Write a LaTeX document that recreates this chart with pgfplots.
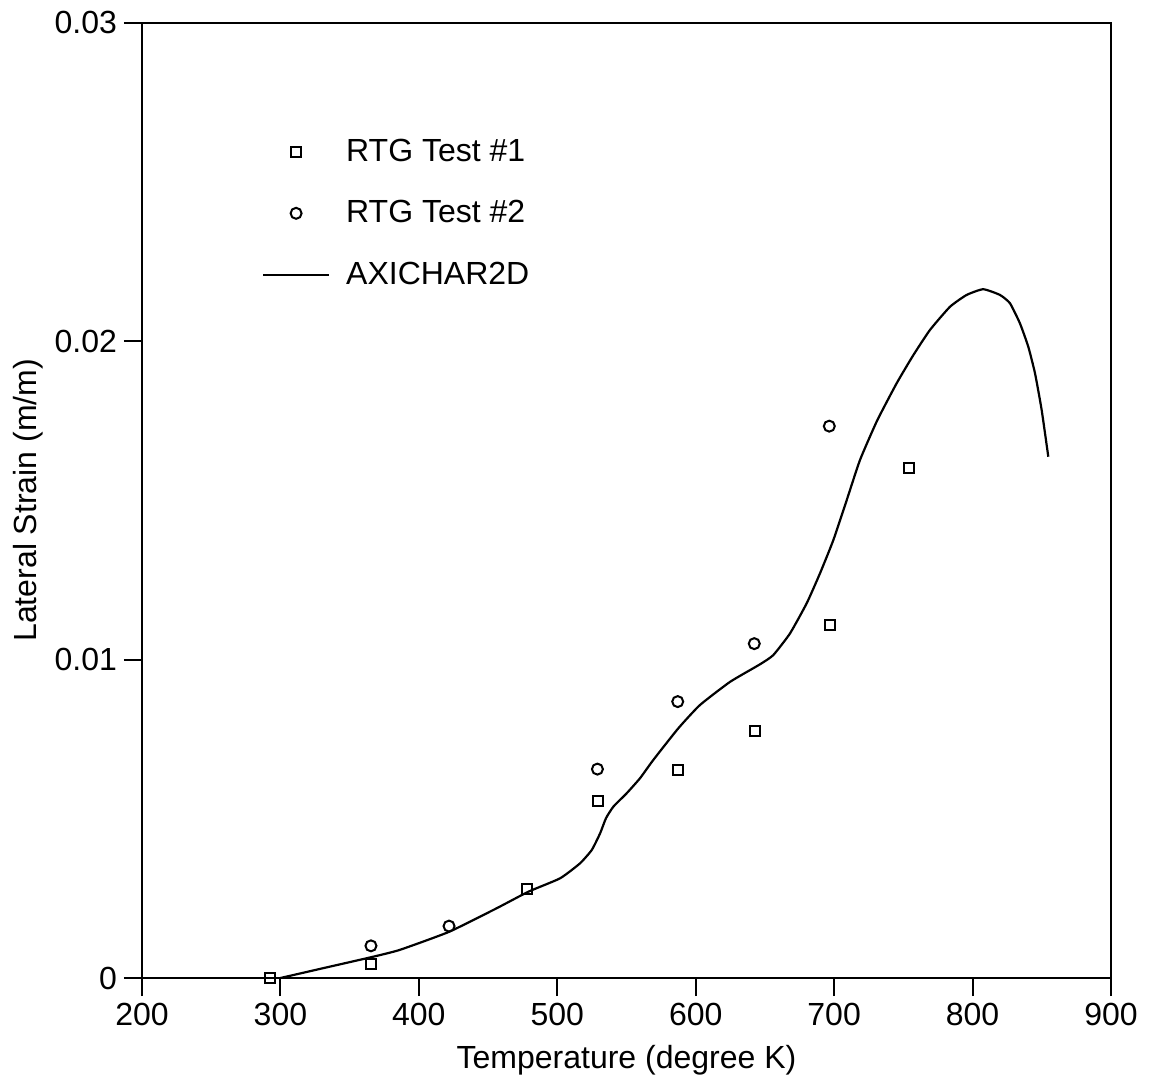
\documentclass[border=0pt]{standalone}
\usepackage{fontspec}
\setmainfont{Liberation Sans}
\usepackage{pgfplots}
\pgfplotsset{compat=1.18}
\begin{document}
\begin{tikzpicture}
\path[use as bounding box] (-71pt,-54pt) rectangle (503.5pt,489pt);
\begin{axis}[
  at={(0,0)}, anchor=south west,
  scale only axis, width=484.5pt, height=477.65pt,
  xmin=200, xmax=900, ymin=0, ymax=0.03,
  xtick={200,300,400,500,600,700,800,900},
  ytick={0,0.01,0.02,0.03},
  yticklabels={0,0.01,0.02,0.03},
  scaled y ticks=false,
  xtick pos=bottom, ytick pos=left,
  tick align=outside,
  major tick length=9pt,
  minor tick num=0,
  axis line style={line width=1pt},
  every tick/.style={black, line width=1pt},
  /pgf/number format/assume math mode=true,
  tick label style={font=\fontsize{16}{19}\selectfont},
  xlabel={Temperature (degree K)},
  ylabel={Lateral Strain (m/m)},
  every axis x label/.style={at={(axis description cs:0.5,-0.0858)}, anchor=center, font=\fontsize{16}{19}\selectfont},
  every axis y label/.style={at={(axis description cs:-0.1176,0.5)}, rotate=90, anchor=center, font=\fontsize{16}{19}\selectfont},
  legend cell align=left,
  legend image code/.code={\draw[mark repeat=2,mark phase=2,#1] plot coordinates {(0pt,0pt) (16.5pt,0pt) (33pt,0pt)};},
  legend style={draw=none, fill=none, inner sep=0pt, outer sep=0pt,
    at={(axis description cs:0,1)}, anchor=north west,
    xshift=60pt, yshift=-58.3pt,
    font=\fontsize{16}{19}\selectfont,
    nodes={inner sep=0pt},
    column sep=8pt, row sep=18pt},
]
\addplot[only marks, mark=square, mark size=2.5pt, mark options={line width=1pt, black}]
  coordinates {
  (292.5,0) (365.2,0.00044) (478.3,0.0028) (529.2,0.00556) (587.4,0.00654)
  (642.8,0.00776) (697,0.01109) (754.3,0.01602)
  };
\addlegendentry{RTG Test \#1}
\addplot[only marks, mark=o, mark size=2.75pt, mark options={line width=1pt, black}]
  coordinates {
  (365.4,0.00101) (421.8,0.00163) (529,0.00656) (587,0.00868) (642.3,0.0105) (696.5,0.01733)
  };
\addlegendentry{RTG Test \#2}
\addplot[black, line width=1.1pt, no marks, smooth, tension=0.3]
  coordinates {
  (300,0) (330,0.0003) (365.2,0.00065) (386,0.00088) (421.8,0.00145) (456.2,0.00219)
  (479.1,0.00271) (502,0.00313) (516.4,0.0036) (524.9,0.00402) (530.9,0.00454)
  (535.2,0.00502) (540.5,0.00538) (550.1,0.0058) (559.7,0.00627) (569.4,0.00685)
  (587.4,0.00784) (603,0.00857) (624.8,0.0093) (646.4,0.00985) (656,0.01014)
  (668.1,0.01082) (680.2,0.01177) (689.8,0.01271) (699.4,0.01375) (709.1,0.01501)
  (718.7,0.01627) (731,0.0175) (745.2,0.01868) (757.2,0.01956) (769.2,0.02035)
  (783.7,0.02108) (795.7,0.02145) (807.7,0.02163) (819.8,0.02145) (827,0.02119)
  (834.2,0.02056) (840.2,0.01983) (845.1,0.01899) (849.9,0.01784) (854.7,0.01637)
  };
\addlegendentry{AXICHAR2D}
\end{axis}
\end{tikzpicture}
\end{document}
